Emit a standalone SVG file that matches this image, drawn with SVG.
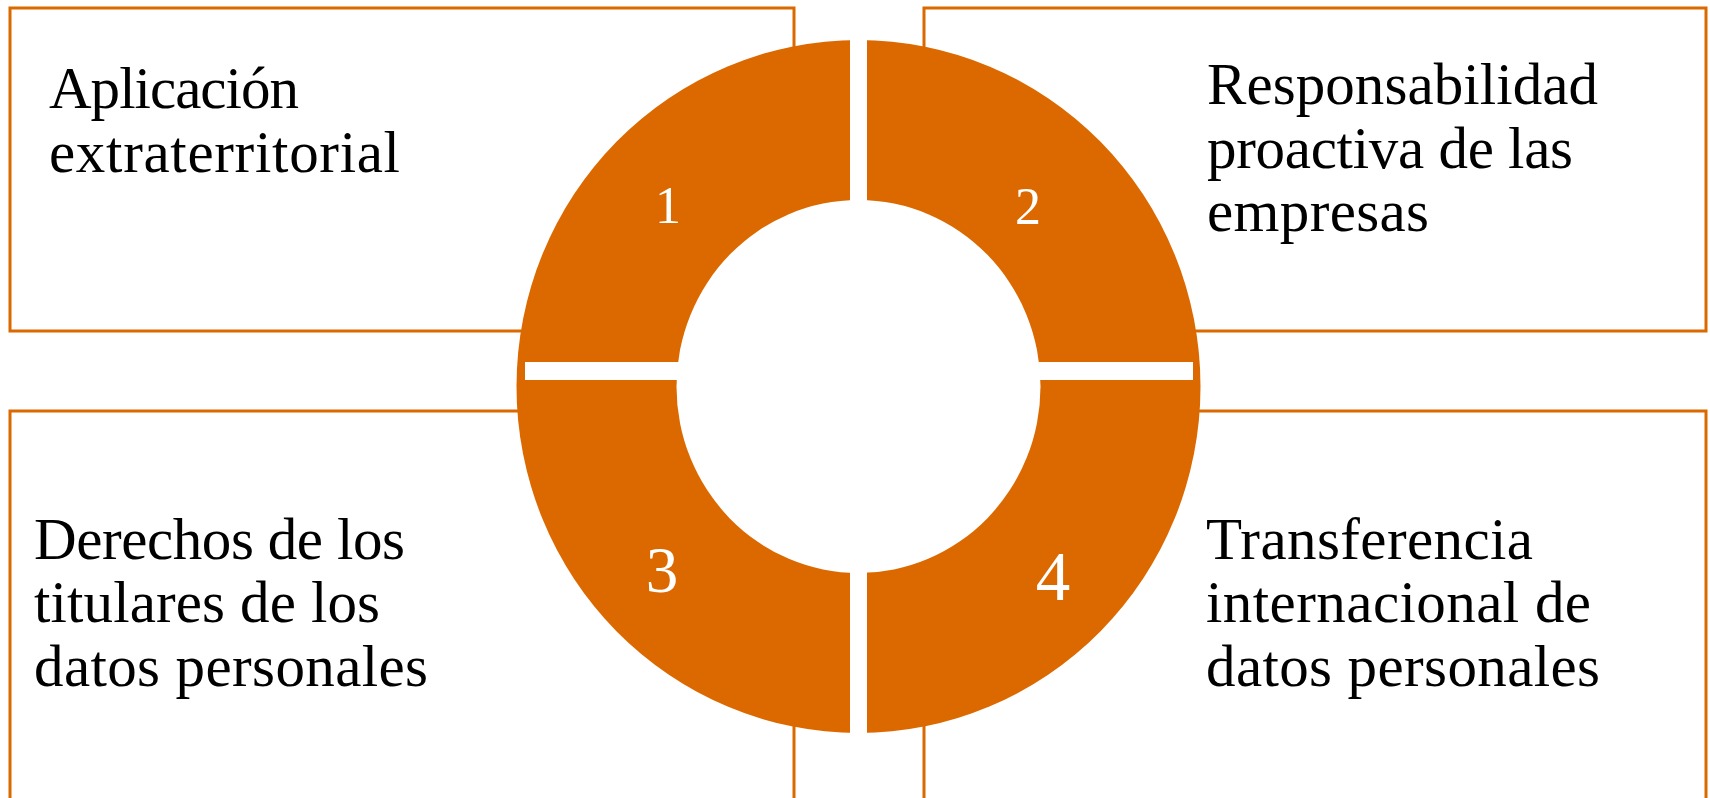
<svg xmlns="http://www.w3.org/2000/svg" width="1710" height="798" viewBox="0 0 1710 798">
  <style>
    .box { fill: #FFFFFF; stroke: #DC6900; stroke-width: 3; }
    .lbl { font-family: "Liberation Serif", "Times New Roman", serif; font-size: 59px; fill: #000000; }
    .num { font-family: "Liberation Serif", "Times New Roman", serif; fill: #FFFFFF; text-anchor: middle; }
    .ring { fill: #DC6900; }
    .gap { fill: #FFFFFF; }
  </style>
  <rect width="1710" height="798" fill="#FFFFFF"/>

  <g id="node-1">
    <rect class="box" x="10" y="8" width="784" height="323"/>
    <text class="lbl" x="49" y="108" textLength="250">Aplicación</text>
    <text class="lbl" x="49" y="172" textLength="351">extraterritorial</text>
  </g>
  <g id="node-2">
    <rect class="box" x="924" y="8" width="782" height="323"/>
    <text class="lbl" x="1207" y="104" textLength="391">Responsabilidad</text>
    <text class="lbl" x="1207" y="168" textLength="366">proactiva de las</text>
    <text class="lbl" x="1207" y="231" textLength="222">empresas</text>
  </g>
  <g id="node-3">
    <rect class="box" x="10" y="411" width="784" height="420"/>
    <text class="lbl" x="34" y="559" textLength="371">Derechos de los</text>
    <text class="lbl" x="34" y="622" textLength="346">titulares de los</text>
    <text class="lbl" x="34" y="686" textLength="394">datos personales</text>
  </g>
  <g id="node-4">
    <rect class="box" x="924" y="411" width="782" height="420"/>
    <text class="lbl" x="1206" y="559" textLength="327">Transferencia</text>
    <text class="lbl" x="1206" y="622" textLength="385">internacional de</text>
    <text class="lbl" x="1206" y="686" textLength="394">datos personales</text>
  </g>

  <g id="cycle">
    <ellipse class="ring" cx="858.5" cy="386.5" rx="342" ry="346.5"/>
    <ellipse class="gap" cx="858.5" cy="386.5" rx="182" ry="186.5"/>
    <rect class="gap" x="850" y="30" width="17" height="720"/>
    <rect class="gap" x="525" y="362" width="160" height="18"/>
    <rect class="gap" x="1032" y="362" width="161" height="18"/>
    <g id="seg-1"><text class="num" x="668" y="223" font-size="52">1</text></g>
    <g id="seg-2"><text class="num" x="1028" y="224" font-size="52">2</text></g>
    <g id="seg-3"><text class="num" x="662" y="592" font-size="65">3</text></g>
    <g id="seg-4"><text class="num" x="1053" y="600" font-size="69">4</text></g>
  </g>

  <g id="connectors"/>
</svg>
